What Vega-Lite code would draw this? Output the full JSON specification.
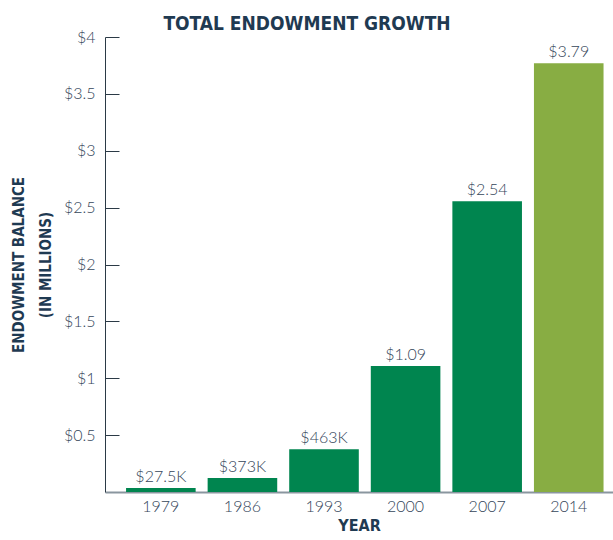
{
  "$schema": "https://vega.github.io/schema/vega-lite/v6.json",
  "autosize": "none",
  "width": 508,
  "height": 455,
  "padding": {"left": 105, "top": 37, "right": 0, "bottom": 48},
  "background": "white",
  "title": {
    "text": "TOTAL ENDOWMENT GROWTH",
    "font": "DejaVu Sans Condensed, Roboto, sans-serif",
    "fontWeight": "bold",
    "fontSize": 19,
    "color": "#1f3a52",
    "anchor": "middle",
    "frame": "group",
    "dx": -52,
    "offset": -5
  },
  "data": {
    "values": [
      {"year": "1979", "v": 0.035, "label": "$27.5K", "kind": "past"},
      {"year": "1986", "v": 0.123, "label": "$373K", "kind": "past"},
      {"year": "1993", "v": 0.375, "label": "$463K", "kind": "past"},
      {"year": "2000", "v": 1.108, "label": "$1.09", "kind": "past"},
      {"year": "2007", "v": 2.555, "label": "$2.54", "kind": "past"},
      {"year": "2014", "v": 3.77, "label": "$3.79", "kind": "current"}
    ]
  },
  "encoding": {
    "x": {
      "field": "year",
      "type": "ordinal",
      "scale": {"paddingInner": 0.147, "paddingOuter": 0.187, "align": 0.69},
      "axis": {
        "title": "YEAR",
        "titleFont": "DejaVu Sans Condensed, Roboto, sans-serif",
        "titleFontWeight": "bold",
        "titleFontSize": 16,
        "titleColor": "#1f3a52",
        "titlePadding": 3,
        "labelAngle": 0,
        "labelFont": "Lato",
        "labelFontWeight": 300,
        "labelFontSize": 16,
        "labelColor": "#34465a",
        "labelPadding": 6,
        "ticks": false,
        "domainColor": "#8a969f",
        "domainWidth": 2
      }
    },
    "y": {
      "field": "v",
      "type": "quantitative",
      "scale": {"domain": [0, 4], "nice": false},
      "axis": {
        "values": [0.5, 1, 1.5, 2, 2.5, 3, 3.5, 4],
        "labelExpr": "'$' + datum.value",
        "title": ["ENDOWMENT BALANCE", "(IN MILLIONS)"],
        "titleFont": "DejaVu Sans Condensed, Roboto, sans-serif",
        "titleFontWeight": "bold",
        "titleFontSize": 15,
        "titleColor": "#1f3a52",
        "titlePadding": 10,
        "titleLineHeight": 27,
        "labelFont": "Lato",
        "labelFontWeight": 300,
        "labelFontSize": 16,
        "labelColor": "#34465a",
        "labelPadding": 24,
        "tickSize": -14,
        "tickColor": "#2b3a46",
        "domainColor": "#2b3a46",
        "grid": false
      }
    }
  },
  "layer": [
    {
      "mark": {"type": "bar"},
      "encoding": {
        "color": {
          "field": "kind",
          "type": "nominal",
          "scale": {"domain": ["past", "current"], "range": ["#00854f", "#88ad43"]},
          "legend": null
        }
      }
    },
    {
      "mark": {
        "type": "text",
        "baseline": "alphabetic",
        "dy": -6,
        "font": "Lato",
        "fontWeight": 300,
        "fontSize": 16,
        "color": "#34465a"
      },
      "encoding": {"text": {"field": "label"}}
    }
  ],
  "config": {"view": {"stroke": null}}
}
